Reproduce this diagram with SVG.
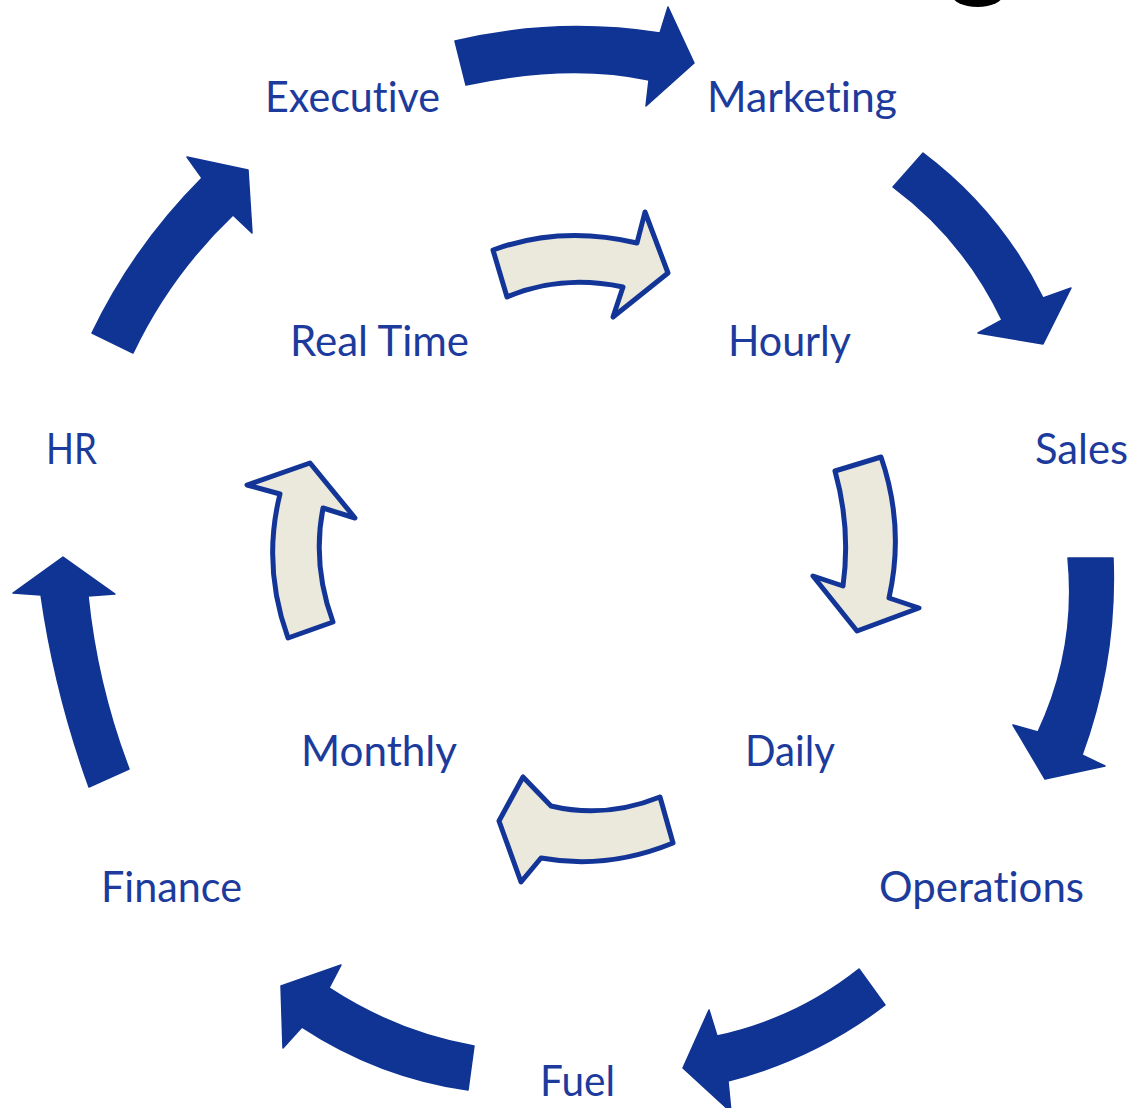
<svg xmlns="http://www.w3.org/2000/svg" width="1134" height="1108" viewBox="0 0 1134 1108">
<style>
.lbl{font-family:"Lato","Open Sans","Liberation Sans",sans-serif;font-size:42px;fill:#1c3b9c;font-variant-ligatures:none;font-feature-settings:"liga" 0;}
.outer{fill:#103494;stroke:#103494;stroke-width:1.5;stroke-linejoin:round;}
.inner{fill:#ebe9dc;stroke:#123597;stroke-width:5;stroke-linejoin:round;}
</style>
<rect x="0" y="0" width="1134" height="1108" fill="#ffffff"/>
<ellipse cx="977.5" cy="-6" rx="26" ry="13" fill="#000000"/>
<g id="connectors">
<path class="outer" d="M455,41 Q556,17 660,33 L668,7 L694,63 L646,106 L649,80 Q568,63 466,85 Z"/>
<path class="outer" d="M923,153 Q1000,211 1043,298 L1071,288 L1043,344 L978,333 L1002,320 Q964,240 893,187 Z"/>
<path class="outer" d="M1068,558 L1113,558 Q1117,660 1082,755 L1105,766 L1045,779 L1013,725 L1038,732 Q1077,649 1068,558 Z"/>
<path class="outer" d="M859,969 L885,1005 Q814,1059 728,1081 L731,1112 L683,1068 L709,1010 L717,1036 Q796,1019 859,969 Z"/>
<path class="outer" d="M474,1046 L468,1090 Q378,1077 302,1027 L283,1048 L281,986 L341,965 L329,988 Q396,1032 474,1046 Z"/>
<path class="outer" d="M89,787 L129,769 Q97,685 88,596 L115,594 L63,557 L13,593 L41,595 Q55,693 89,787 Z"/>
<path class="outer" d="M92,333 L133,353 Q170,275 233,215 L252,233 L248,170 L187,157 L202,178 Q134,246 92,333 Z"/>
<path class="inner" d="M493,250 Q561,225 637,243 L645,212 L668,273 L613,317 L623,287 Q561,274 507,297 Z"/>
<path class="inner" d="M835,471 L881,457 Q905,527 889,598 L919,608 L857,631 L813,576 L843,586 Q851,528 835,471 Z"/>
<path class="inner" d="M660,797 Q605,819 551,806 L523,777 L499,821 L521,882 L541,858 Q607,870 673,843 Z"/>
<path class="inner" d="M288,638 L333,622 Q312,565 323,508 L355,518 L310,463 L247,485 L280,494 Q262,566 288,638 Z"/>
</g>
<g id="node-executive"><text class="lbl" x="265" y="112" textLength="175" lengthAdjust="spacingAndGlyphs">Executive</text></g>
<g id="node-marketing"><text class="lbl" x="707" y="112" textLength="190" lengthAdjust="spacingAndGlyphs">Marketing</text></g>
<g id="node-realtime"><text class="lbl" x="290" y="356" textLength="179" lengthAdjust="spacingAndGlyphs">Real Time</text></g>
<g id="node-hourly"><text class="lbl" x="728" y="356" textLength="123" lengthAdjust="spacingAndGlyphs">Hourly</text></g>
<g id="node-hr"><text class="lbl" x="46" y="464" textLength="51" lengthAdjust="spacingAndGlyphs">HR</text></g>
<g id="node-sales"><text class="lbl" x="1035" y="464" textLength="93" lengthAdjust="spacingAndGlyphs">Sales</text></g>
<g id="node-monthly"><text class="lbl" x="301" y="766" textLength="156" lengthAdjust="spacingAndGlyphs">Monthly</text></g>
<g id="node-daily"><text class="lbl" x="745" y="766" textLength="90" lengthAdjust="spacingAndGlyphs">Daily</text></g>
<g id="node-finance"><text class="lbl" x="101" y="902" textLength="141" lengthAdjust="spacingAndGlyphs">Finance</text></g>
<g id="node-operations"><text class="lbl" x="879" y="902" textLength="205" lengthAdjust="spacingAndGlyphs">Operations</text></g>
<g id="node-fuel"><text class="lbl" x="540" y="1096" textLength="75" lengthAdjust="spacingAndGlyphs">Fuel</text></g>
</svg>
